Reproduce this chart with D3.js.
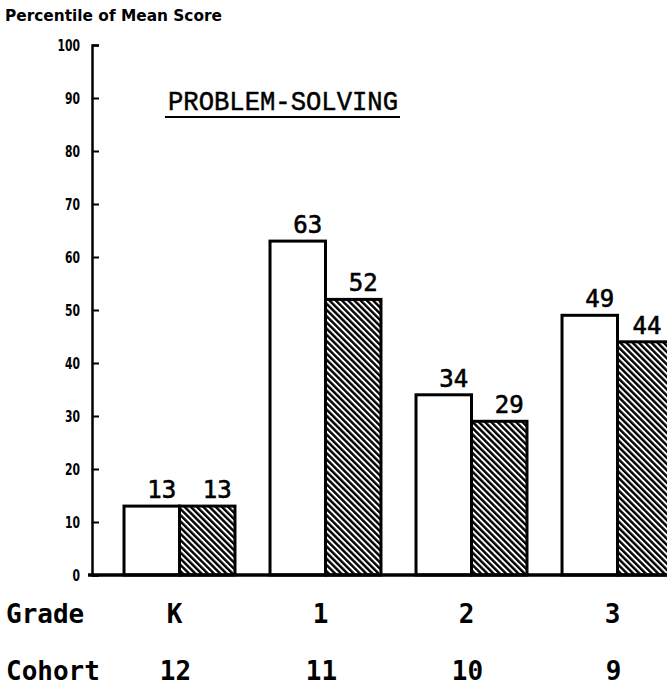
<!DOCTYPE html>
<html>
<head>
<meta charset="utf-8">
<script src="https://cdn.jsdelivr.net/npm/d3@7"></script>
<style>
  body { margin: 0; background: #fff; }
  svg { display: block; }
</style>
</head>
<body>
<div id="vis"></div>
<script>
// values
const grades = ['K', '1', '2', '3']
const cohorts = ['12', '11', '10', '9']
const seriesKeys = ['open', 'hatched']
const openValues = [13, 63, 34, 49]
const hatchedValues = [13, 52, 29, 44]
const yTicks = [0, 10, 20, 30, 40, 50, 60, 70, 80, 90, 100]

const width = 667
const height = 685
const axisX = 92

const svg = d3.select('#vis')
    .append('svg')
    .attr('width', width)
    .attr('height', height)

// hatch fill for the second bar of each pair
const defs = svg.append('defs')
const hatch = defs.append('pattern')
    .attr('id', 'hatch')
    .attr('patternUnits', 'userSpaceOnUse')
    .attr('width', 4.4)
    .attr('height', 4.4)
    .attr('patternTransform', 'rotate(-45)')
hatch.append('rect').attr('width', 4.4).attr('height', 4.4).attr('fill', '#fff')
hatch.append('line')
    .attr('x1', 1.2).attr('x2', 1.2).attr('y1', 0).attr('y2', 4.4)
    .attr('stroke', '#000').attr('stroke-width', 2.5)

// scales
const y = d3.scaleLinear().domain([0, 100]).range([575, 45])
const x0 = d3.scaleBand().domain(grades).range([106.5, 690.5])
    .paddingInner(0.24).paddingOuter(0.12)
const x1 = d3.scaleBand().domain(seriesKeys).range([0, x0.bandwidth()])

const rows = grades.map((g, i) => ({grade: g, cohort: cohorts[i], open: openValues[i], hatched: hatchedValues[i]}))

// y axis title
svg.append('text')
    .attr('x', 5).attr('y', 21)
    .attr('font-family', 'DejaVu Sans').attr('font-weight', 'bold').attr('font-size', 15)
    .attr('textLength', 217).attr('lengthAdjust', 'spacingAndGlyphs')
    .text('Percentile of Mean Score')

// y axis, ticks pointing inward
const yAxis = svg.append('g')
    .attr('transform', `translate(${axisX},0)`)
    .call(d3.axisLeft(y).tickValues(yTicks).tickSize(-7).tickSizeOuter(-7).tickPadding(12))
yAxis.select('.domain').attr('stroke', '#000').attr('stroke-width', 2.5)
yAxis.selectAll('.tick line').attr('stroke', '#000').attr('stroke-width', 2)
yAxis.selectAll('.tick text')
    .attr('fill', '#000')
    .attr('font-family', 'DejaVu Sans').attr('font-weight', 'bold').attr('font-size', 15)
    .attr('textLength', d => String(d).length * 7.5)
    .attr('lengthAdjust', 'spacingAndGlyphs')
    .attr('dy', '0.35em')

// title
svg.append('text')
    .attr('x', 168).attr('y', 110)
    .attr('font-family', 'Liberation Mono').attr('font-size', 28)
    .attr('stroke', '#000').attr('stroke-width', 0.5)
    .attr('textLength', 230).attr('lengthAdjust', 'spacingAndGlyphs')
    .text('PROBLEM-SOLVING')
svg.append('line')
    .attr('x1', 165).attr('x2', 400).attr('y1', 117).attr('y2', 117)
    .attr('stroke', '#000').attr('stroke-width', 1.8)

// bars
const groups = svg.append('g').selectAll('g')
    .data(rows)
    .join('g')
    .attr('transform', d => `translate(${x0(d.grade)},0)`)

groups.selectAll('rect')
    .data(d => seriesKeys.map(k => ({key: k, value: d[k]})))
    .join('rect')
    .attr('x', d => x1(d.key))
    .attr('width', x1.bandwidth())
    .attr('y', d => y(d.value))
    .attr('height', d => y(0) - y(d.value))
    .attr('fill', d => d.key === 'open' ? '#fff' : 'url(#hatch)')
    .attr('stroke', '#000')
    .attr('stroke-width', 3)

// value labels, kept inside the page on the right
groups.selectAll('text')
    .data(d => seriesKeys.map(k => ({key: k, value: d[k], gx: x0(d.grade)})))
    .join('text')
    .attr('x', d => Math.min(x1(d.key) + x1.bandwidth() / 2 + 10, width - 20 - d.gx))
    .attr('y', d => y(d.value) - 8)
    .attr('text-anchor', 'middle')
    .attr('font-family', 'DejaVu Sans Mono').attr('font-size', 24)
    .attr('stroke', '#000').attr('stroke-width', 0.6)
    .text(d => d.value)

// baseline
svg.append('line')
    .attr('x1', 88).attr('x2', width).attr('y1', y(0)).attr('y2', y(0))
    .attr('stroke', '#000').attr('stroke-width', 3.5)

// category rows under the chart
const rowFont = sel => sel
    .attr('font-family', 'DejaVu Sans Mono').attr('font-weight', 'bold').attr('font-size', 26)

svg.append('text').attr('x', 6).attr('y', 623).call(rowFont).text('Grade')
svg.append('text').attr('x', 6).attr('y', 680).call(rowFont).text('Cohort')

svg.append('g').selectAll('text')
    .data(rows)
    .join('text')
    .attr('x', d => x0(d.grade) + x0.bandwidth() / 2 - 5)
    .attr('y', 623)
    .attr('text-anchor', 'middle')
    .call(rowFont)
    .text(d => d.grade)

svg.append('g').selectAll('text')
    .data(rows)
    .join('text')
    .attr('x', d => x0(d.grade) + x0.bandwidth() / 2 - 4)
    .attr('y', 680)
    .attr('text-anchor', 'middle')
    .call(rowFont)
    .text(d => d.cohort)
</script>
</body>
</html>
